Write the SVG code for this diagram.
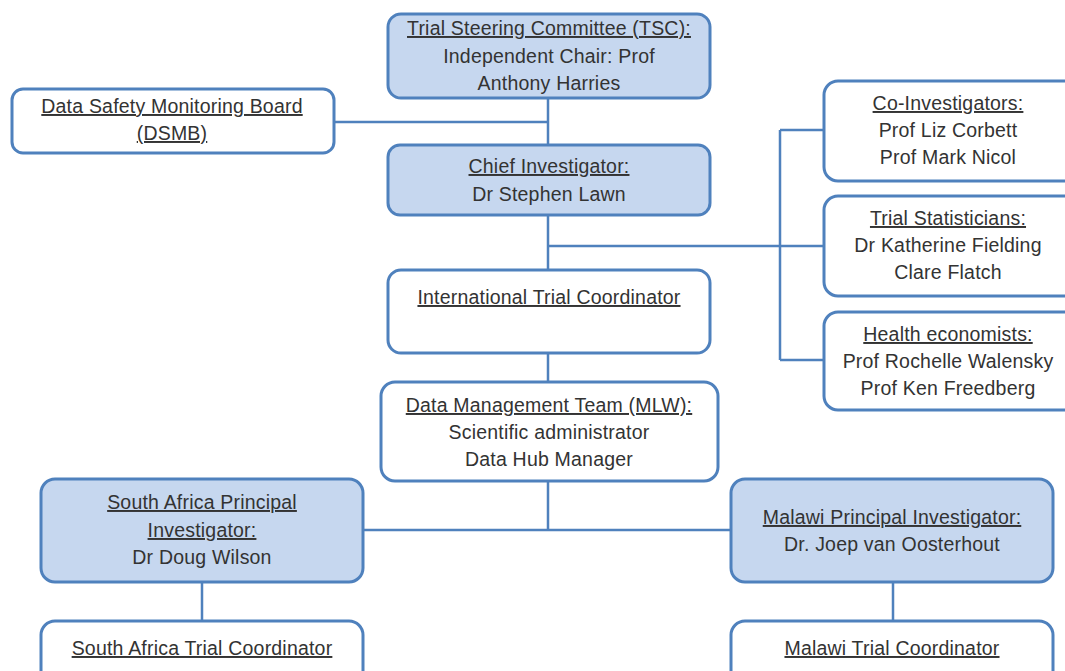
<svg xmlns="http://www.w3.org/2000/svg" width="1065" height="671" viewBox="0 0 1065 671">
<style>
.f{fill:#c6d7ef;stroke:#4f81bd;stroke-width:3}
.w{fill:#ffffff;stroke:#4f81bd;stroke-width:3}
.c{fill:none;stroke:#4f81bd;stroke-width:2.5}
text{font-family:"Liberation Sans",Arial,sans-serif;font-size:19.5px;letter-spacing:0.2px;fill:#333333;text-anchor:middle}
.u{text-decoration:underline}
</style>
<rect width="1065" height="671" fill="#ffffff"/>
<g id="connectors">
<path class="c" d="M548 98V145M334 122H548M548 215V270M548 246H824M780 130V360M780 130H824M780 360H824M548 353V382M548 481V530M363 530H731M202 582V621M893 582V621"/>
</g>
<g id="tsc"><rect class="f" x="388" y="14" width="322" height="84" rx="13"/>
<text x="549" y="35"><tspan class="u">Trial Steering Committee (TSC):</tspan></text>
<text x="549" y="63">Independent Chair: Prof</text>
<text x="549" y="90">Anthony Harries</text></g>
<g id="dsmb"><rect class="w" x="12" y="89" width="322" height="64" rx="11"/>
<text x="172" y="113"><tspan class="u">Data Safety Monitoring Board</tspan></text>
<text x="172" y="140"><tspan class="u">(DSMB)</tspan></text></g>
<g id="chief"><rect class="f" x="388" y="145" width="322" height="70" rx="12"/>
<text x="549" y="173"><tspan class="u">Chief Investigator:</tspan></text>
<text x="549" y="201">Dr Stephen Lawn</text></g>
<g id="itc"><rect class="w" x="388" y="270" width="322" height="83" rx="13"/>
<text x="549" y="304"><tspan class="u">International Trial Coordinator</tspan></text></g>
<g id="dmt"><rect class="w" x="381" y="382" width="337" height="99" rx="14"/>
<text x="549" y="412"><tspan class="u">Data Management Team (MLW):</tspan></text>
<text x="549" y="439">Scientific administrator</text>
<text x="549" y="466">Data Hub Manager</text></g>
<g id="coinv"><rect class="w" x="824" y="81" width="256" height="100" rx="14"/>
<text x="948" y="110"><tspan class="u">Co-Investigators:</tspan></text>
<text x="948" y="137">Prof Liz Corbett</text>
<text x="948" y="164">Prof Mark Nicol</text></g>
<g id="stats"><rect class="w" x="824" y="196" width="256" height="100" rx="14"/>
<text x="948" y="225"><tspan class="u">Trial Statisticians:</tspan></text>
<text x="948" y="252">Dr Katherine Fielding</text>
<text x="948" y="279">Clare Flatch</text></g>
<g id="health"><rect class="w" x="824" y="312" width="256" height="98" rx="14"/>
<text x="948" y="341"><tspan class="u">Health economists:</tspan></text>
<text x="948" y="368">Prof Rochelle Walensky</text>
<text x="948" y="395">Prof Ken Freedberg</text></g>
<g id="sapi"><rect class="f" x="41" y="479" width="322" height="103" rx="14"/>
<text x="202" y="509"><tspan class="u">South Africa Principal</tspan></text>
<text x="202" y="537"><tspan class="u">Investigator:</tspan></text>
<text x="202" y="564">Dr Doug Wilson</text></g>
<g id="mpi"><rect class="f" x="731" y="479" width="322" height="103" rx="14"/>
<text x="892" y="524"><tspan class="u">Malawi Principal Investigator:</tspan></text>
<text x="892" y="551">Dr. Joep van Oosterhout</text></g>
<g id="satc"><rect class="w" x="41" y="621" width="322" height="80" rx="14"/>
<text x="202" y="655"><tspan class="u">South Africa Trial Coordinator</tspan></text></g>
<g id="mtc"><rect class="w" x="731" y="621" width="322" height="80" rx="14"/>
<text x="892" y="655"><tspan class="u">Malawi Trial Coordinator</tspan></text></g>
</svg>
